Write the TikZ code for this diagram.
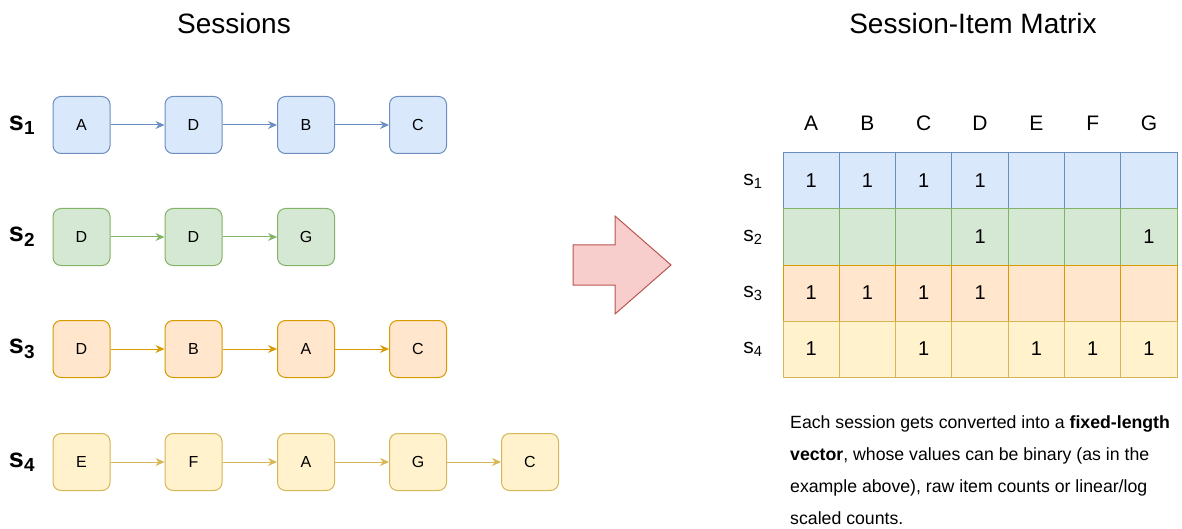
\documentclass[tikz,border=0pt]{standalone}
\usepackage{fontspec}
\setmainfont{Liberation Sans}
\usetikzlibrary{arrows.meta}
\definecolor{bluef}{HTML}{DAE8FC}\definecolor{blued}{HTML}{6C8EBF}
\definecolor{greenf}{HTML}{D5E8D4}\definecolor{greend}{HTML}{82B366}
\definecolor{orangef}{HTML}{FFE6CC}\definecolor{oranged}{HTML}{D79B00}
\definecolor{yellowf}{HTML}{FFF2CC}\definecolor{yellowd}{HTML}{D6B656}
\definecolor{redf}{HTML}{F8CECC}\definecolor{redd}{HTML}{B85450}
\tikzset{
  itembox/.style={draw, line width=1pt, rounded corners=8pt, minimum width=57pt, minimum height=57pt, inner sep=0pt, font=\fontsize{16}{18}\selectfont},
  rowA/.style={itembox, fill=bluef, draw=blued},
  rowB/.style={itembox, fill=greenf, draw=greend},
  rowC/.style={itembox, fill=orangef, draw=oranged},
  rowD/.style={itembox, fill=yellowf, draw=yellowd},
  link/.style={line width=1pt, -{Stealth[length=9pt,width=8pt]}},
  slabel/.style={font=\fontsize{27}{30}\selectfont\bfseries, inner sep=0pt},
  title/.style={font=\fontsize{28}{32}\selectfont, inner sep=0pt},
  cell/.style={draw, line width=1pt, minimum width=56.3pt, minimum height=56pt, inner sep=0pt, font=\fontsize{20}{22}\selectfont},
  hdr/.style={font=\fontsize{21}{24}\selectfont, inner sep=0pt},
  mlabel/.style={font=\fontsize{21}{24}\selectfont, inner sep=0pt},
}
\begin{document}
\begin{tikzpicture}[x=1pt,y=-1pt]
\useasboundingbox (0,0) rectangle (1182,529);
% titles
\node[title] (t1) at (234,23) {Sessions};
\node[title] (t2) at (973,23) {Session-Item Matrix};
% session labels
\node[slabel] (l1) at (22,125) {s\textsubscript{1}};
\node[slabel] (l2) at (22,237) {s\textsubscript{2}};
\node[slabel] (l3) at (22,349) {s\textsubscript{3}};
\node[slabel] (l4) at (22,462) {s\textsubscript{4}};
% row 1
\node[rowA] (a1) at (81.5,125) {A};
\node[rowA] (a2) at (193.5,125) {D};
\node[rowA] (a3) at (306,125) {B};
\node[rowA] (a4) at (418,125) {C};
\foreach \i/\j in {a1/a2,a2/a3,a3/a4} \draw[link, blued] (\i) -- (\j);
% row 2
\node[rowB] (b1) at (81.5,237) {D};
\node[rowB] (b2) at (193.5,237) {D};
\node[rowB] (b3) at (306,237) {G};
\foreach \i/\j in {b1/b2,b2/b3} \draw[link, greend] (\i) -- (\j);
% row 3
\node[rowC] (c1) at (81.5,349) {D};
\node[rowC] (c2) at (193.5,349) {B};
\node[rowC] (c3) at (306,349) {A};
\node[rowC] (c4) at (418,349) {C};
\foreach \i/\j in {c1/c2,c2/c3,c3/c4} \draw[link, oranged] (\i) -- (\j);
% row 4
\node[rowD] (d1) at (81.5,462) {E};
\node[rowD] (d2) at (193.5,462) {F};
\node[rowD] (d3) at (306,462) {A};
\node[rowD] (d4) at (418,462) {G};
\node[rowD] (d5) at (530,462) {C};
\foreach \i/\j in {d1/d2,d2/d3,d3/d4,d4/d5} \draw[link, yellowd] (\i) -- (\j);
% big arrow
\draw[fill=redf, draw=redd, line width=1pt] (573,245) -- (615,245) -- (615,216) -- (671,265) -- (615,314) -- (615,285) -- (573,285) -- cycle;
% matrix headers
\foreach \h [count=\j] in {A,B,C,D,E,F,G}
  \node[hdr] (h\j) at ({783+56.3*(\j-0.5)},123) {\h};
% matrix rows
\foreach \r/\f/\d/\vals [count=\i] in {
  1/bluef/blued/{1,1,1,1,,,},
  2/greenf/greend/{,,,1,,,1},
  3/orangef/oranged/{1,1,1,1,,,},
  4/yellowf/yellowd/{1,,1,,1,1,1}} {
  \node[mlabel] (m\r) at (753,{153+56*(\i-0.5)}) {s\textsubscript{\r}};
  \foreach \v [count=\j] in \vals
    \node[cell, fill=\f, draw=\d] (c\r-\j) at ({783+56.3*(\j-0.5)},{153+56*(\i-0.5)}) {\v};
}
% description
\node[anchor=north west, inner sep=0pt, align=left, font=\fontsize{17.7}{32}\selectfont] (desc) at (790,415)
  {Each session gets converted into a \textbf{fixed-length}\\
   \textbf{vector}, whose values can be binary (as in the\\
   example above), raw item counts or linear/log\\
   scaled counts.};
\end{tikzpicture}
\end{document}
